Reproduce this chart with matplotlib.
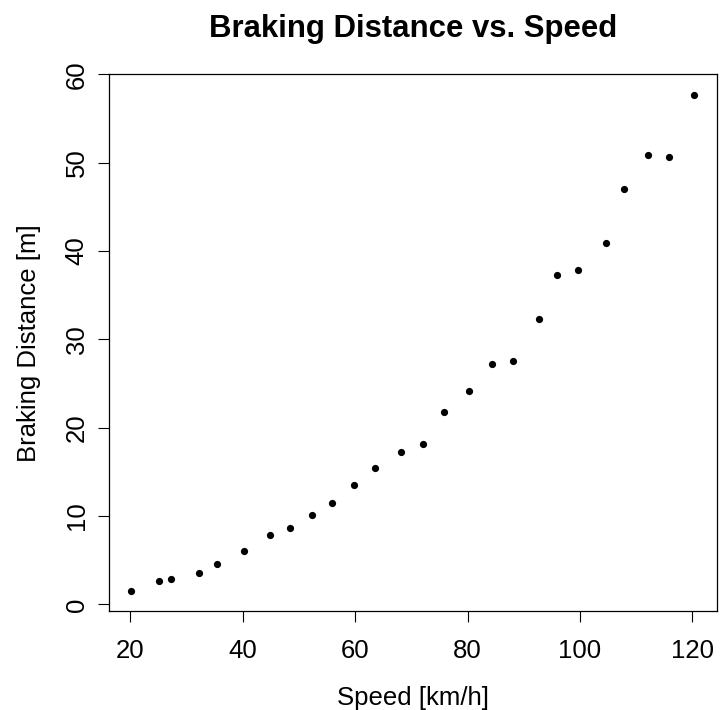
import matplotlib
matplotlib.use("Agg")
import matplotlib.pyplot as plt

# values
speed = [20.1, 25.1, 27.2, 32.2, 35.4, 40.2, 44.8, 48.4, 52.4, 55.8, 59.7, 63.6, 68.1,
         72.0, 75.8, 80.2, 84.3, 88.1, 92.8, 95.9, 99.7, 104.7, 107.8, 112.1, 115.9, 120.4]
distance = [1.5, 2.6, 2.9, 3.5, 4.6, 6.1, 7.8, 8.7, 10.1, 11.5, 13.5, 15.4, 17.2,
            18.1, 21.8, 24.1, 27.2, 27.5, 32.3, 37.3, 37.9, 40.9, 47.0, 50.9, 50.6, 57.7]
x_ticks = [20, 40, 60, 80, 100, 120]
y_ticks = [0, 10, 20, 30, 40, 50, 60]

plt.rcParams['font.family'] = ['Liberation Sans', 'DejaVu Sans']

fig = plt.figure(figsize=(7.21, 7.10), dpi=100)
ax = fig.add_axes([0.1505, 0.1394, 0.844, 0.756])

ax.plot(speed, distance, 'o', color='black', markersize=5.2, markeredgewidth=0)

# R style 4% range extension
xr = max(speed) - min(speed)
yr = max(distance) - min(distance)
ax.set_xlim(min(speed) - 0.04 * xr, max(speed) + 0.04 * xr)
ax.set_ylim(min(distance) - 0.04 * yr, max(distance) + 0.04 * yr)

ax.set_xticks(x_ticks)
ax.set_yticks(y_ticks)
ax.tick_params(axis='both', direction='out', length=8, width=0.8, labelsize=18.5, color='black')
ax.tick_params(axis='x', pad=12.5)
ax.tick_params(axis='y', pad=6.2)
for lab in ax.get_yticklabels():
    lab.set_rotation(90)
    lab.set_va('center')

for sp in ax.spines.values():
    sp.set_linewidth(0.9)
    sp.set_color('black')

ax.set_xlabel("Speed [km/h]", fontsize=18.5, va='center')
ax.xaxis.set_label_coords(0.5, -0.1627)
ax.set_ylabel("Braking Distance [m]", fontsize=18.5, va='center')
ax.yaxis.set_label_coords(-0.1301, 0.5)

fig.text((108.5 + 717) / 2 / 721, 1 - 29 / 710, "Braking Distance vs. Speed",
         fontsize=22.4, fontweight='bold', ha='center', va='center')

fig.savefig("out.png", dpi=100, facecolor='white')
